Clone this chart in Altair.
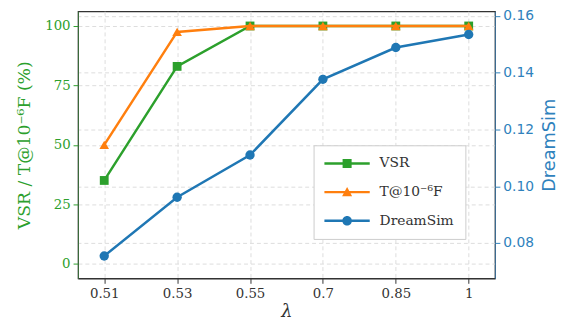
import altair as alt
import pandas as pd

lams = ["0.51", "0.53", "0.55", "0.7", "0.85", "1"]
vsr = [35, 83, 100, 100, 100, 100]
tfar = [50, 97.5, 100, 100, 100, 100]
dreamsim = [0.0754, 0.0961, 0.111, 0.1377, 0.1489, 0.1535]
series = ["VSR", "T@10⁻⁶F", "DreamSim"]
colors = ["#2ca02c", "#ff7f0e", "#1f77b4"]

left_ticks = [0, 25, 50, 75, 100]
right_ticks = [0.08, 0.10, 0.12, 0.14, 0.16]

df = pd.DataFrame({"lam": lams, "VSR": vsr, "T": tfar, "DreamSim": dreamsim})
legend_df = pd.DataFrame({"series": series})

# legend glyphs: a line with its marker (unit = 7.5 px, slot = [-1, 1])
x0, x1, mc = -1.0, 5.13, 2.07
hl = 0.167
ms = 0.61
line_path = f"M{x0},-{hl}H{x1}V{hl}H{x0}Z"
sq_path = line_path + f" M{mc-ms:.2f},-{ms}H{mc+ms:.2f}V{ms}H{mc-ms:.2f}Z"
tri_path = line_path + f" M{mc},-0.68L{mc+0.68:.2f},0.55L{mc-0.68:.2f},0.55Z"
cir_path = line_path + f" M{mc},-0.65A0.65,0.65 0 1,1 {mc},0.65A0.65,0.65 0 1,1 {mc},-0.65Z"

grid_kw = dict(grid=True, gridDash=[4, 3], gridColor="#dcdcdc", gridWidth=1)

x_enc = alt.X(
    "lam:N", sort=lams,
    scale=alt.Scale(type="point", padding=0.36),
    axis=alt.Axis(title="λ", labelAngle=0, labelFont="DejaVu Serif", labelFontSize=13.5,
                  labelColor="#333333", tickColor="#333333", domainColor="#333333",
                  tickSize=5, labelPadding=3, titleFont="DejaVu Serif", titleFontStyle="italic",
                  titleFontSize=18, titleFontWeight="normal", titleColor="#333333",
                  titlePadding=3, **grid_kw),
)

left_scale = alt.Scale(domain=[-6.2, 106.2], nice=False, zero=False)
left_axis = alt.Axis(title="VSR / T@10⁻⁶F (%)", values=left_ticks, orient="left",
                     labelFont="DejaVu Serif", labelFontSize=13.5, labelColor="#2ca02c",
                     tickColor="#2ca02c", domainColor="#3a6b3a", tickSize=5, labelPadding=3,
                     titleFont="DejaVu Serif", titleFontSize=17.5, titleFontWeight="normal",
                     titleColor="#2ca02c", titlePadding=11, **grid_kw)

right_scale = alt.Scale(domain=[0.0675, 0.1617], nice=False, zero=False)
right_axis = alt.Axis(title="DreamSim", values=right_ticks, orient="right", format=".2f",
                      labelFont="DejaVu Sans", labelFontSize=14, labelColor="#2f82bd",
                      tickColor="#2f82bd", domainColor="#3b6e96", tickSize=5, labelPadding=3,
                      titleFont="DejaVu Sans", titleFontSize=18, titleFontWeight="normal",
                      titleColor="#2f82bd", titlePadding=7, titleAngle=270,
                      titleBaseline="top", **grid_kw)

base = alt.Chart(df)

vsr_line = base.mark_line(color=colors[0], strokeWidth=2.5).encode(
    x=x_enc, y=alt.Y("VSR:Q", scale=left_scale, axis=left_axis))
vsr_pts = base.mark_point(shape="square", filled=True, size=80, color=colors[0], opacity=1).encode(
    x=x_enc, y=alt.Y("VSR:Q", scale=left_scale, axis=left_axis))
t_line = base.mark_line(color=colors[1], strokeWidth=2.5).encode(
    x=x_enc, y=alt.Y("T:Q", scale=left_scale, axis=left_axis))
t_pts = base.mark_point(shape="triangle-up", filled=True, size=95, color=colors[1], opacity=1).encode(
    x=x_enc, y=alt.Y("T:Q", scale=left_scale, axis=left_axis))

legend_layer = alt.Chart(legend_df).mark_point(filled=True, opacity=0).encode(
    color=alt.Color("series:N", scale=alt.Scale(domain=series, range=colors),
                    legend=alt.Legend(title=None, orient="none", legendX=239, legendY=136,
                                      fillColor="white", strokeColor="#cccccc", padding=11,
                                      symbolSize=225, symbolOpacity=1, symbolStrokeWidth=0,
                                      labelFont="DejaVu Serif", labelFontSize=14,
                                      labelColor="#333333", labelOffset=41, rowPadding=14,
                                      cornerRadius=0)),
    shape=alt.Shape("series:N", scale=alt.Scale(domain=series, range=[sq_path, tri_path, cir_path]),
                    legend=None),
)

left = alt.layer(vsr_line, vsr_pts, t_line, t_pts, legend_layer)

ds_line = base.mark_line(color=colors[2], strokeWidth=2.5).encode(
    x=x_enc, y=alt.Y("DreamSim:Q", scale=right_scale, axis=right_axis))
ds_pts = base.mark_point(shape="circle", filled=True, size=90, color=colors[2], opacity=1).encode(
    x=x_enc, y=alt.Y("DreamSim:Q", scale=right_scale, axis=right_axis))
right = alt.layer(ds_line, ds_pts)

chart = alt.layer(left, right).resolve_scale(y="independent").properties(
    width=423, height=271,
    padding={"left": 71, "top": 1, "right": 66, "bottom": 44},
    autosize=alt.AutoSizeParams(type="none"),
).configure_view(
    stroke="#333333", strokeWidth=1.2
).configure_axisLeft(
    labelFont="DejaVu Serif", titleFont="DejaVu Serif"
).configure_axisBottom(
    labelFont="DejaVu Serif", titleFont="DejaVu Serif"
).configure_axisRight(
    labelFont="DejaVu Sans", titleFont="DejaVu Sans"
)

chart.save("out.html", embed_options={"renderer": "svg", "actions": False})
